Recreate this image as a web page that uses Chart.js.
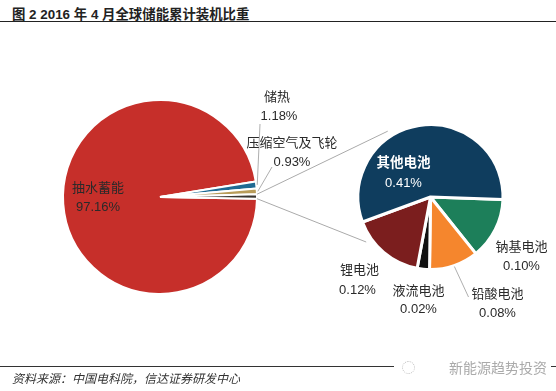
<!DOCTYPE html>
<html>
<head>
<meta charset="utf-8">
<script src="https://cdn.jsdelivr.net/npm/chart.js@4.4.0/dist/chart.umd.min.js"></script>
<style>
body { margin: 0; background: #fff; }
#wrap { position: relative; width: 556px; height: 391px; overflow: hidden; font-family: "Liberation Sans", "Noto Sans CJK SC", sans-serif; }
#wrap canvas { position: absolute; left: 0; top: 0; }
#title { position: absolute; left: 12px; top: 3px; font-size: 13.4px; font-weight: bold; color: #222; white-space: nowrap; }
#topline { position: absolute; left: 0; top: 21px; width: 556px; border-top: 1.5px solid #222; }
#botline { position: absolute; left: 0; top: 366px; width: 556px; border-top: 1px solid #333; }
#source { position: absolute; left: 12px; top: 369px; font-size: 12px; font-style: italic; color: #333; white-space: nowrap; }
#mark { position: absolute; left: 394px; top: 357px; height: 18px; padding: 0 4px; background: #fff; color: #aaa; font-size: 14px; white-space: nowrap; z-index: 5; }
#mark i { display: inline-block; width: 11px; height: 11px; border: 1.5px dotted #bbb; border-radius: 50%; margin: 0 34px 0 4px; vertical-align: -1px; }
</style>
</head>
<body>
<div id="wrap">
  <div id="title">图 2 2016 年 4 月全球储能累计装机比重</div>
  <div id="topline"></div>
  <canvas id="main" width="556" height="391"></canvas>
  <canvas id="sub" width="556" height="391"></canvas>
  <div id="botline"></div>
  <div id="source">资料来源：中国电科院，信达证券研发中心</div>
  <div id="mark"><i></i>新能源趋势投资</div>
</div>
<script>
// data (percent of global installed storage, April 2016)
const mainLabels = ['抽水蓄能', '储热', '压缩空气及飞轮', '电池'];
const batteryLabels = ['钠基电池', '铅酸电池', '液流电池', '锂电池', '其他电池'];
const batteryValues = [0.10, 0.08, 0.02, 0.12, 0.41];
const mainValues = [97.16, 1.18, 0.93, 0.73];

const mainColors = ['#c62f2a', '#1f6a93', '#b99c5a', '#3a3530'];
const batteryColors = ['#1d7f5a', '#f5862d', '#111111', '#7b1e1e', '#0f3d5e'];

const FONT = '13px "Liberation Sans", "Noto Sans CJK SC", sans-serif';
const BOLD = 'bold 13.5px "Liberation Sans", "Noto Sans CJK SC", sans-serif';

// label spots relative to pie centre: [name dx, name dy, value dx, value dy, leader dx, leader dy]
const mainLayout = [
  [-62, -9, -62, 10],
  [117, -100, 119, -81, 100, -73],
  [132, -54, 132, -35, 112, -30]
];
const subLayout = [
  [91, 50, 91, 69],
  [67, 97, 67, 116, 38, 100],
  [-12, 94, -12, 112],
  [-71, 73, -73, 93],
  [-27, -34, -27, -14]
];

function pct(v) { return v.toFixed(2) + '%'; }

function outerMid(arc, extra) {
  const a = (arc.startAngle + arc.endAngle) / 2;
  const r = arc.outerRadius + (extra || 0);
  return [arc.x + Math.cos(a) * r, arc.y + Math.sin(a) * r];
}

function labelPlugin(labels, values, layout, whiteIdx) {
  return {
    id: 'sliceLabels',
    afterDraw(chart) {
      const ctx = chart.ctx;
      const arcs = chart.getDatasetMeta(0).data;
      const cx = arcs[0].x, cy = arcs[0].y;
      ctx.save();
      ctx.textAlign = 'center';
      ctx.textBaseline = 'middle';
      layout.forEach((l, i) => {
        if (l.length > 4) {
          const p = outerMid(arcs[i], 1);
          ctx.strokeStyle = '#999';
          ctx.lineWidth = 0.8;
          ctx.beginPath();
          ctx.moveTo(cx + l[4], cy + l[5]);
          ctx.lineTo(p[0], p[1]);
          ctx.stroke();
        }
        const white = i === whiteIdx;
        ctx.fillStyle = white ? '#fff' : '#2a2a2a';
        ctx.font = white ? BOLD : FONT;
        ctx.fillText(labels[i], cx + l[0], cy + l[1]);
        ctx.font = FONT;
        ctx.fillText(pct(values[i]), cx + l[2], cy + l[3]);
      });
      ctx.restore();
    }
  };
}

const baseOpts = {
  responsive: false,
  animation: false,
  events: [],
  plugins: { legend: { display: false }, tooltip: { enabled: false } }
};

const mainChart = new Chart(document.getElementById('main'), {
  type: 'pie',
  data: {
    labels: mainLabels,
    datasets: [{ data: mainValues, backgroundColor: mainColors, borderColor: '#fff', borderWidth: 2 }]
  },
  options: Object.assign({}, baseOpts, {
    rotation: 91,
    layout: { padding: { left: 62, right: 298, top: 99, bottom: 96 } }
  }),
  plugins: [labelPlugin(mainLabels, mainValues, mainLayout, -1)]
});

// connector lines from the battery slice to the secondary pie
const connectors = {
  id: 'connectors',
  beforeDatasetsDraw(chart) {
    const b = mainChart.getDatasetMeta(0).data[3];
    const sub = chart.getDatasetMeta(0).data[0];
    const r0 = b.outerRadius, r1 = sub.outerRadius + 6;
    const ctx = chart.ctx;
    ctx.save();
    ctx.strokeStyle = '#aaa';
    ctx.lineWidth = 1;
    [[b.startAngle, -123], [b.endAngle, 145]].forEach(([a, deg]) => {
      const t = deg * Math.PI / 180;
      ctx.beginPath();
      ctx.moveTo(b.x + Math.cos(a) * r0, b.y + Math.sin(a) * r0);
      ctx.lineTo(sub.x + Math.cos(t) * r1, sub.y + Math.sin(t) * r1);
      ctx.stroke();
    });
    ctx.restore();
  }
};

new Chart(document.getElementById('sub'), {
  type: 'pie',
  data: {
    labels: batteryLabels,
    datasets: [{ data: batteryValues, backgroundColor: batteryColors, borderColor: '#fff', borderWidth: 3 }]
  },
  options: Object.assign({}, baseOpts, {
    rotation: 92,
    layout: { padding: { left: 356, right: 51, top: 123, bottom: 120 } }
  }),
  plugins: [connectors, labelPlugin(batteryLabels, batteryValues, subLayout, 4)]
});
</script>
</body>
</html>
